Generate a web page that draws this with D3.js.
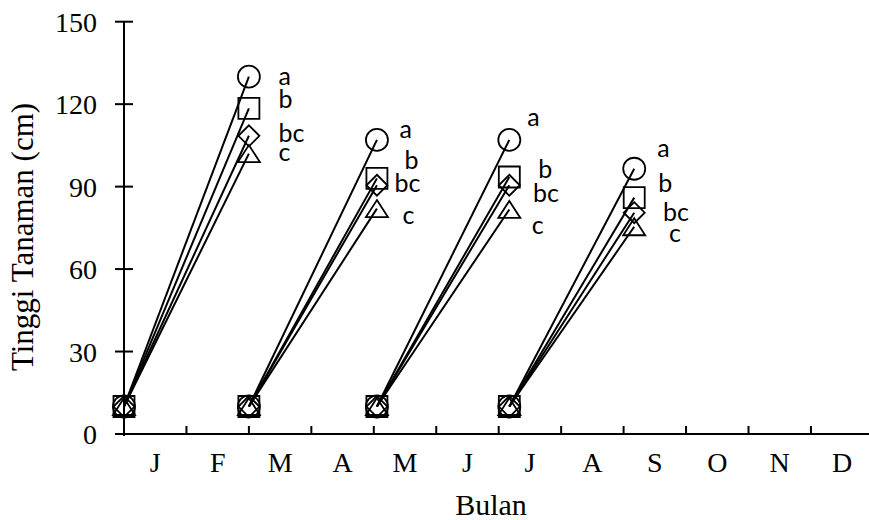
<!DOCTYPE html>
<html>
<head>
<meta charset="utf-8">
<script src="https://cdn.jsdelivr.net/npm/d3@7"></script>
<style>
  html, body { margin: 0; padding: 0; background: #fff; }
  svg { display: block; }
</style>
</head>
<body>
<svg id="chart" width="869" height="520"></svg>
<script>
// ---- data ----
const monthLabels = ["J", "F", "M", "A", "M", "J", "J", "A", "S", "O", "N", "D"];
const yTickValues = [0, 30, 60, 90, 120, 150];
// observation periods (month position on the axis): start and end of each period
const periodStart = [0, 2.0, 4.05, 6.17];
const periodEnd = [2.0, 4.05, 6.17, 8.17];
const startHeight = [10, 10, 10, 10];
// plant height at the end of each period (cm), one array per treatment
const heightCircle = [130, 107, 107, 96.5];
const heightSquare = [118.5, 93, 93.5, 86];
const heightDiamond = [108.5, 90.5, 90.5, 80.5];
const heightTriangle = [102, 82, 81.7, 75.4];
const letterCircle = ["a", "a", "a", "a"];
const letterSquare = ["b", "b", "b", "b"];
const letterDiamond = ["bc", "bc", "bc", "bc"];
const letterTriangle = ["c", "c", "c", "c"];

// ---- layout ----
const svg = d3.select("#chart");
const x = d3.scaleLinear().domain([0, 12]).range([124, 873.4]);
const y = d3.scaleLinear().domain([0, 150]).range([434, 21.7]);

// letter label offsets (px) relative to marker centre, per period
const letterOffsets = {
  circle:   [[29.5, 8], [22.5, -1.6], [18, -13.9], [23, -11.5]],
  square:   [[29.5, -0.6], [27.5, -9.5], [29, 0.8], [24, -5.4]],
  diamond:  [[29.5, 6.5], [17.5, 6.8], [23.7, 16.5], [28.7, 8.5]],
  triangle: [[29.5, 7], [25.6, 15], [22.4, 24.2], [34.7, 15.5]]
};

const shapes = {
  circle: (cx, cy) => { const p = d3.path(); p.moveTo(cx + 11, cy); p.arc(cx, cy, 11, 0, 2 * Math.PI); return p.toString(); },
  square: (cx, cy) => `M${cx - 10.5},${cy - 10.5}h21v21h-21Z`,
  diamond: (cx, cy) => `M${cx},${cy - 10.5}L${cx + 10.5},${cy}L${cx},${cy + 10.5}L${cx - 10.5},${cy}Z`,
  triangle: (cx, cy) => `M${cx},${cy - 8.5}L${cx + 11},${cy + 8.5}L${cx - 11},${cy + 8.5}Z`
};

const series = [
  { shape: "circle", values: heightCircle, letters: letterCircle },
  { shape: "square", values: heightSquare, letters: letterSquare },
  { shape: "diamond", values: heightDiamond, letters: letterDiamond },
  { shape: "triangle", values: heightTriangle, letters: letterTriangle }
];

// ---- axes ----
const axisG = svg.append("g").attr("stroke", "#000").attr("stroke-width", 2).attr("fill", "none");
axisG.append("line").attr("x1", x(0)).attr("x2", 869).attr("y1", y(0)).attr("y2", y(0));
const xTicks = d3.range(0, 12);
axisG.selectAll(".xt").data(xTicks).join("line")
  .attr("x1", d => x(d)).attr("x2", d => x(d))
  .attr("y1", y(0) - 8).attr("y2", y(0));
axisG.append("line").attr("x1", x(0)).attr("x2", x(0)).attr("y1", y(150)).attr("y2", y(0) + 2);
axisG.selectAll(".yt").data(yTickValues).join("line")
  .attr("x1", x(0) - 9).attr("x2", x(0) + 9)
  .attr("y1", d => y(d)).attr("y2", d => y(d));

svg.selectAll(".ylab").data(yTickValues).join("text")
  .attr("x", 97).attr("y", d => y(d) + 10)
  .attr("text-anchor", "end")
  .attr("font-family", "'Liberation Serif', 'Times New Roman', serif")
  .attr("font-size", 28)
  .text(d => d);

svg.selectAll(".xlab").data(monthLabels).join("text")
  .attr("x", (d, i) => x(i + 0.5)).attr("y", 471.5)
  .attr("text-anchor", "middle")
  .attr("font-family", "'Liberation Serif', 'Times New Roman', serif")
  .attr("font-size", 28)
  .text(d => d);

svg.append("text")
  .attr("x", 491).attr("y", 515)
  .attr("text-anchor", "middle")
  .attr("font-family", "'Liberation Serif', 'Times New Roman', serif")
  .attr("font-size", 30)
  .text("Bulan");

svg.append("text")
  .attr("transform", "translate(33,237) rotate(-90)")
  .attr("text-anchor", "middle")
  .attr("font-family", "'Liberation Serif', 'Times New Roman', serif")
  .attr("font-size", 31)
  .text("Tinggi Tanaman (cm)");

// ---- lines & markers ----
const plot = svg.append("g");
series.forEach(s => {
  s.values.forEach((v, i) => {
    plot.append("line")
      .attr("x1", x(periodStart[i])).attr("y1", y(startHeight[i]))
      .attr("x2", x(periodEnd[i])).attr("y2", y(v))
      .attr("stroke", "#000").attr("stroke-width", 2);
  });
});
series.forEach(s => {
  s.values.forEach((v, i) => {
    plot.append("path").attr("d", shapes[s.shape](x(periodStart[i]), y(startHeight[i])))
      .attr("fill", "none").attr("stroke", "#000").attr("stroke-width", 1.8);
    plot.append("path").attr("d", shapes[s.shape](x(periodEnd[i]), y(v)))
      .attr("fill", "none").attr("stroke", "#000").attr("stroke-width", 1.8);
    const off = letterOffsets[s.shape][i];
    plot.append("text")
      .attr("x", x(periodEnd[i]) + off[0]).attr("y", y(v) + off[1])
      .attr("font-family", "Lato, 'Open Sans', sans-serif")
      .attr("font-size", 25)
      .text(s.letters[i]);
  });
});
</script>
</body>
</html>
